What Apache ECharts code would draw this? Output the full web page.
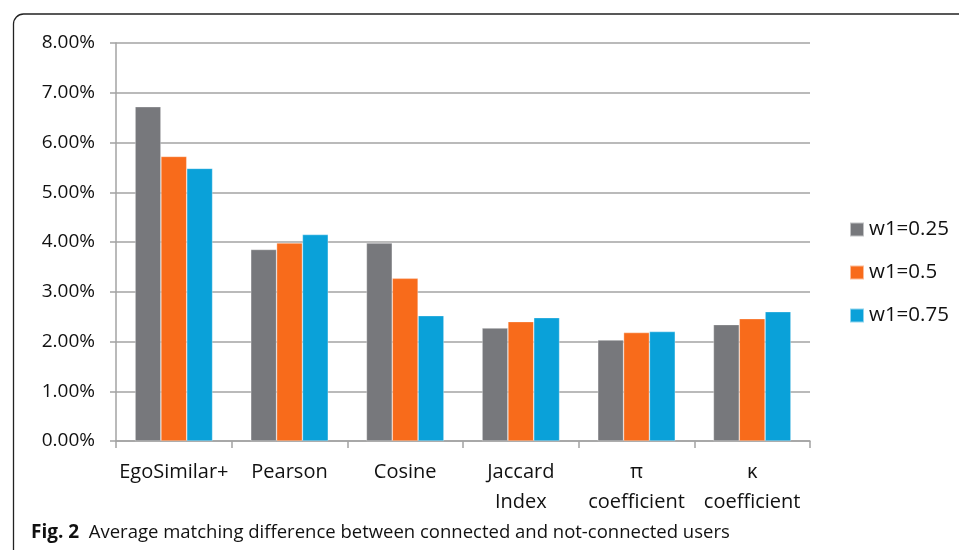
<!DOCTYPE html>
<html>
<head>
<meta charset="utf-8">
<script src="https://cdn.jsdelivr.net/npm/echarts@6/dist/echarts.min.js"></script>
<style>
  html, body { margin: 0; padding: 0; background: #fff; }
  #chart { width: 959px; height: 550px; }
</style>
</head>
<body>
<div id="chart"></div>
<script>
// Similarity measures compared
const categories = ['EgoSimilar+', 'Pearson', 'Cosine', 'Jaccard\nIndex', 'π\ncoefficient', 'κ\ncoefficient'];
// Average matching difference (%) for each weight setting
const w025 = [6.72, 3.85, 3.98, 2.27, 2.03, 2.34];
const w05  = [5.72, 3.98, 3.27, 2.40, 2.18, 2.46];
const w075 = [5.48, 4.15, 2.52, 2.48, 2.20, 2.60];
const seriesNames = ['w1=0.25', 'w1=0.5', 'w1=0.75'];
const yTicks = { min: 0, max: 8, step: 1 };
const caption = 'Average matching difference between connected and not-connected users';

const FONT = '"Open Sans", sans-serif';
const TEXT = '#111111';
const GRID_GRAY = '#a3a3a3';
const colors = ['#77787c', '#f86b1b', '#0aa1d9'];

const chart = echarts.init(document.getElementById('chart'), null, { renderer: 'canvas' });

function barSeries(name, data, color) {
  return {
    name: name,
    type: 'bar',
    data: data,
    barGap: '0%',
    barCategoryGap: '33%',
    itemStyle: { color: color, borderColor: 'rgba(255,255,255,0.55)', borderWidth: 0.6 },
    emphasis: { disabled: true }
  };
}

chart.setOption({
  animation: false,
  backgroundColor: '#ffffff',
  color: colors,
  grid: { left: 116, right: 149, top: 43, bottom: 109, containLabel: false },
  legend: {
    orient: 'vertical',
    left: 849,
    top: 219,
    padding: 0,
    itemWidth: 14,
    itemHeight: 14,
    itemGap: 22,
    icon: 'rect',
    selectedMode: false,
    textStyle: { fontFamily: FONT, fontSize: 20.5, color: TEXT, lineHeight: 21 },
    data: seriesNames
  },
  xAxis: {
    type: 'category',
    data: categories,
    axisLine: { show: true, lineStyle: { color: GRID_GRAY, width: 1.5 } },
    axisTick: { show: true, length: 7, alignWithLabel: false, lineStyle: { color: GRID_GRAY, width: 1.5 } },
    axisLabel: {
      interval: 0,
      margin: 16,
      fontFamily: FONT,
      fontSize: 20,
      lineHeight: 30,
      color: TEXT
    }
  },
  yAxis: {
    type: 'value',
    min: yTicks.min,
    max: yTicks.max,
    interval: yTicks.step,
    axisLine: { show: true, lineStyle: { color: GRID_GRAY, width: 1.5 } },
    axisTick: { show: true, length: 6, lineStyle: { color: GRID_GRAY, width: 1.5 } },
    splitLine: { show: true, lineStyle: { color: GRID_GRAY, width: 1.5 } },
    axisLabel: {
      margin: 21,
      fontFamily: FONT,
      fontSize: 19,
      color: TEXT,
      formatter: v => v.toFixed(2) + '%'
    }
  },
  series: [
    barSeries(seriesNames[0], w025, colors[0]),
    barSeries(seriesNames[1], w05, colors[1]),
    barSeries(seriesNames[2], w075, colors[2])
  ],
  graphic: [
    {
      type: 'rect',
      silent: true,
      shape: { x: 13.5, y: 14, width: 1000, height: 600, r: [10, 0, 0, 0] },
      style: { fill: 'none', stroke: '#222', lineWidth: 1.3 }
    },
    {
      type: 'text',
      silent: true,
      left: 31,
      top: 523,
      style: {
        rich: {
          b: { fontFamily: FONT, fontWeight: 'bold', fontSize: 19, fill: TEXT },
          n: { fontFamily: FONT, fontSize: 18.5, fill: TEXT }
        },
        text: '{b|Fig. 2}{n|  ' + caption + '}'
      }
    }
  ]
});
</script>
</body>
</html>
